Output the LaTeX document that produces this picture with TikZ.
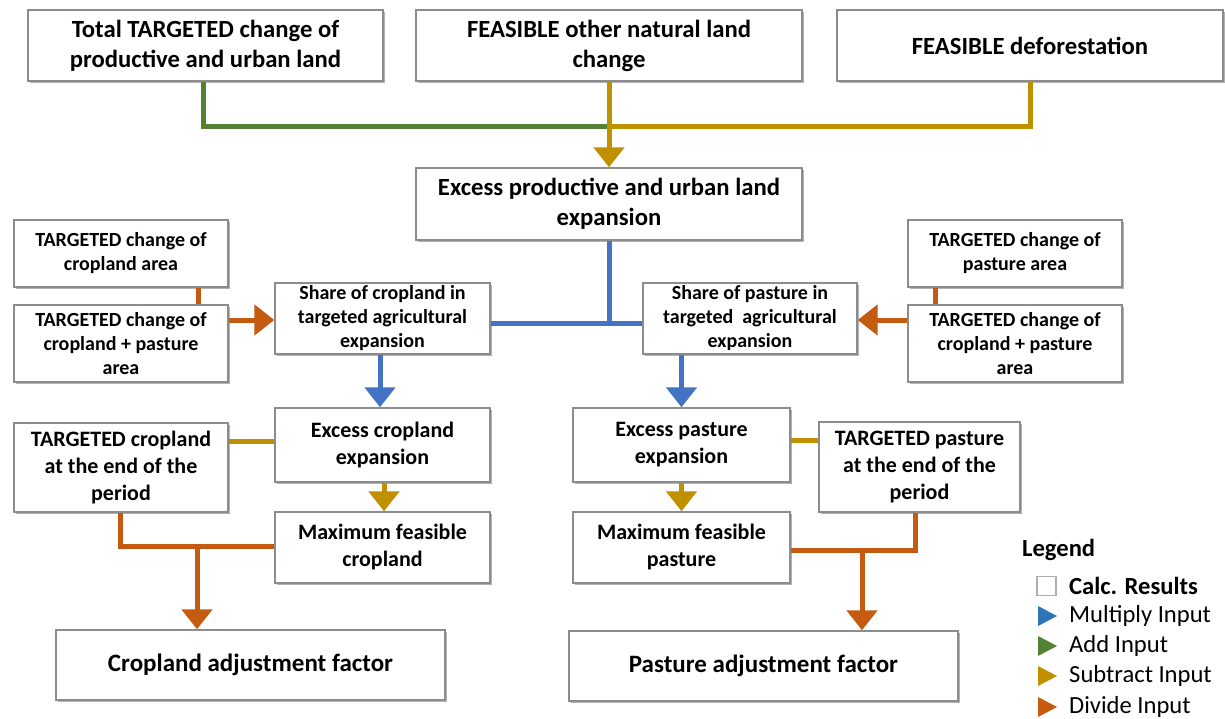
\documentclass[tikz,border=0pt]{standalone}
\usepackage{fontspec}
\setmainfont{Carlito}
\usetikzlibrary{arrows.meta,shadows}

\definecolor{cblue}{HTML}{4472C4}
\definecolor{cgreen}{HTML}{548235}
\definecolor{cgold}{HTML}{BF9000}
\definecolor{corange}{HTML}{C55A11}
\definecolor{lblue}{HTML}{2E75B6}
\definecolor{boxline}{HTML}{8C8C8C}

\tikzset{
  calcbox/.style={draw=boxline, line width=1.4pt, fill=white, align=center,
    inner sep=2pt, font=\bfseries,
    drop shadow={shadow xshift=1.6pt, shadow yshift=-1.6pt, opacity=0.3, fill=black}},
  bigtxt/.style={font=\fontsize{24.7}{30}\selectfont\bfseries},
  midtxt/.style={font=\fontsize{22}{27}\selectfont\bfseries},
  smalltxt/.style={font=\fontsize{20}{24}\selectfont\bfseries},
  hugetxt/.style={font=\fontsize{25}{30}\selectfont\bfseries},
  legtxt/.style={font=\fontsize{24.6}{29}\selectfont, anchor=west, inner sep=0pt},
  link/.style={line width=5pt, line join=miter},
  tip/.style={-{Triangle[width=30pt,length=20pt]}},
}

\begin{document}
\begin{tikzpicture}[x=1pt,y=-1pt]
\useasboundingbox (0,0) rectangle (1225,719);

% top row
\node[calcbox,bigtxt,minimum width=355pt,minimum height=71pt] (totl) at (205.5,45.5)
  {Total TARGETED change of\\productive and urban land};
\node[calcbox,bigtxt,minimum width=386pt,minimum height=71pt] (oth) at (609,45.5)
  {FEASIBLE other natural land\\change};
\node[calcbox,bigtxt,minimum width=386pt,minimum height=71pt] (defo) at (1030,45.5)
  {FEASIBLE deforestation};
\node[calcbox,bigtxt,minimum width=386pt,minimum height=72pt] (excess) at (609,204)
  {Excess productive and urban land\\expansion};

% cropland branch
\node[calcbox,smalltxt,minimum width=214pt,minimum height=67pt] (crpchg) at (121,253.5)
  {TARGETED change of\\cropland area};
\node[calcbox,smalltxt,minimum width=214pt,minimum height=77pt] (agrl) at (121,343.5)
  {TARGETED change of\\cropland + pasture\\area};
\node[calcbox,smalltxt,minimum width=215pt,minimum height=71pt] (shcrp) at (382.5,318.5)
  {Share of cropland in\\targeted agricultural\\expansion};
\node[calcbox,midtxt,minimum width=215pt,minimum height=74pt] (excrp) at (382.5,445)
  {Excess cropland\\expansion};
\node[calcbox,midtxt,minimum width=214pt,minimum height=89pt] (tgcrp) at (121,467.5)
  {TARGETED cropland\\at the end of the\\period};
\node[calcbox,midtxt,minimum width=215pt,minimum height=71pt] (mxcrp) at (382.5,547.5)
  {Maximum feasible\\cropland};
\node[calcbox,hugetxt,minimum width=389pt,minimum height=70pt] (adjcrp) at (250.5,665)
  {Cropland adjustment factor};

% pasture branch
\node[calcbox,smalltxt,minimum width=214pt,minimum height=71pt] (shpas) at (750,318.5)
  {Share of pasture in\\targeted\ \ agricultural\\expansion};
\node[calcbox,smalltxt,minimum width=214pt,minimum height=67pt] (paschg) at (1015,253.5)
  {TARGETED change of\\pasture area};
\node[calcbox,smalltxt,minimum width=214pt,minimum height=77pt] (agrr) at (1015,343.5)
  {TARGETED change of\\cropland + pasture\\area};
\node[calcbox,midtxt,minimum width=217pt,minimum height=74pt] (expas) at (681.5,445)
  {Excess pasture\\expansion};
\node[calcbox,midtxt,minimum width=201pt,minimum height=90pt] (tgpas) at (919.5,467)
  {TARGETED pasture\\at the end of the\\period};
\node[calcbox,midtxt,minimum width=217pt,minimum height=71pt] (mxpas) at (681.5,547.5)
  {Maximum feasible\\pasture};
\node[calcbox,hugetxt,minimum width=389pt,minimum height=70pt] (adjpas) at (763.5,666)
  {Pasture adjustment factor};

% junction points
\coordinate (jtop) at (609,125);
\coordinate (jmid) at (609,323);
\coordinate (jcrp) at (197,546);
\coordinate (jpas) at (862,550);

% top: add and subtract inputs
\draw[link,cgreen] ([xshift=-2.5pt]totl.south) -- ++(0,44.5) -| (jtop);
\draw[link,cgold] (defo.south) -- ++(0,44.5) -| (jtop);
\draw[link,cgold,tip] (oth.south) -- (excess.north);

% multiply inputs
\draw[link,cblue] (excess.south) -- (jmid);
\draw[link,cblue] (shcrp.east |- jmid) -- (shpas.west |- jmid);
\draw[link,cblue,tip] ([xshift=-2.5pt]shcrp.south) -- ([xshift=-2.5pt]excrp.north);
\draw[link,cblue,tip] ([xshift=-68.5pt]shpas.south) -- ([xshift=-68.5pt]shpas.south |- expas.north);

% divide inputs for the shares
\draw[link,corange] ([xshift=77pt]crpchg.south) -- ([xshift=77pt]agrl.north);
\draw[link,corange,tip] ([yshift=23.5pt]agrl.east) -- ([yshift=23.5pt]agrl.east -| shcrp.west);
\draw[link,corange] ([xshift=-80pt]paschg.south) -- ([xshift=-80pt]agrr.north);
\draw[link,corange,tip] ([yshift=23.5pt]agrr.west) -- ([yshift=23.5pt]agrr.west -| shpas.east);

% subtract inputs for the maxima
\draw[link,cgold] ([yshift=26.5pt]tgcrp.east) -- ([yshift=26.5pt]tgcrp.east -| excrp.west);
\draw[link,cgold,tip] ([xshift=1.5pt]excrp.south) -- ([xshift=1.5pt]mxcrp.north);
\draw[link,cgold] ([yshift=27pt]tgpas.west) -- ([yshift=27pt]tgpas.west -| expas.east);
\draw[link,cgold,tip] (expas.south) -- (mxpas.north);

% divide inputs for the adjustment factors
\draw[link,corange] ([xshift=-1pt]tgcrp.south) |- (mxcrp.west |- jcrp);
\draw[link,corange,tip] (jcrp) -- (jcrp |- adjcrp.north);
\draw[link,corange] ([xshift=-4.5pt]tgpas.south) |- (mxpas.east |- jpas);
\draw[link,corange,tip] (jpas) -- (jpas |- adjpas.north);

% legend
\node[font=\fontsize{24.6}{29}\selectfont\bfseries, anchor=west, inner sep=0pt] (leghead) at (1022,550) {Legend};
\node[draw=boxline!70, line width=1.2pt, minimum size=19pt, inner sep=0pt] (legbox) at (1046.5,586) {};
\node[legtxt, font=\fontsize{24.6}{29}\selectfont\bfseries] (legcalc) at (1069,586) {Calc. Results};
\fill[lblue] (1038,606) -- (1057,616) -- (1038,626) -- cycle;
\node[legtxt] (legmul) at (1069,616) {Multiply Input};
\fill[cgreen] (1038,636) -- (1057,646) -- (1038,656) -- cycle;
\node[legtxt] (legadd) at (1069,646) {Add Input};
\fill[cgold] (1038,666) -- (1057,676) -- (1038,686) -- cycle;
\node[legtxt] (legsub) at (1069,676) {Subtract Input};
\fill[corange] (1038,697) -- (1057,707) -- (1038,717) -- cycle;
\node[legtxt] (legdiv) at (1069,707) {Divide Input};
\end{tikzpicture}
\end{document}
